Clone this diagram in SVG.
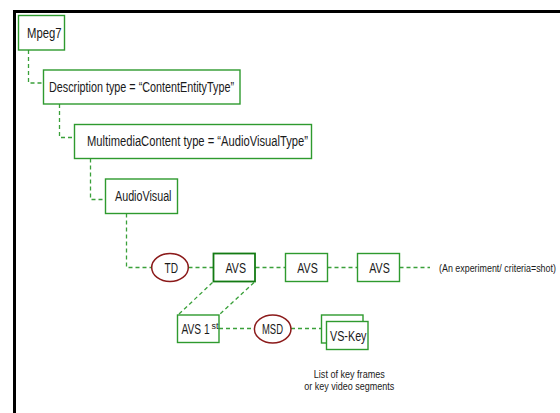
<svg xmlns="http://www.w3.org/2000/svg" width="560" height="413" viewBox="0 0 560 413">
  <style>
    .box { fill: #ffffff; stroke: #2e9a2e; stroke-width: 1.4; }
    .box-strong { fill: #ffffff; stroke: #137a13; stroke-width: 1.8; }
    .oval { fill: #ffffff; stroke: #8b1a1a; stroke-width: 1.5; }
    .link { fill: none; stroke: #3aa03a; stroke-width: 1.3; stroke-dasharray: 4 3; }
    text { font-family: "Liberation Sans Narrow", "Liberation Sans", Arial, sans-serif; fill: #1a1a1a; }
    .lbl { font-size: 14px; }
    .note { font-size: 11.5px; }
  </style>

  <!-- frame -->
  <rect x="13" y="10" width="547" height="3" fill="#000"/>
  <rect x="13" y="10" width="3" height="403" fill="#000"/>

  <!-- connectors -->
  <g id="connectors">
    <polyline class="link" points="28.5,50 28.5,83 43.5,83"/>
    <polyline class="link" points="59.5,104 59.5,137.5 74.5,137.5"/>
    <polyline class="link" points="90.5,158.5 90.5,199.5 105.5,199.5"/>
    <polyline class="link" points="126.5,213.5 126.5,267.5 151.5,267.5"/>
    <line class="link" x1="188.5" y1="267.5" x2="213" y2="267.5"/>
    <line class="link" x1="255.5" y1="267.5" x2="285.5" y2="267.5"/>
    <line class="link" x1="327.5" y1="267.5" x2="357.5" y2="267.5"/>
    <line class="link" x1="399.5" y1="267.5" x2="430" y2="267.5"/>
    <line class="link" x1="212.5" y1="282.5" x2="178" y2="315"/>
    <line class="link" x1="254" y1="282.5" x2="219" y2="315"/>
    <line class="link" x1="219" y1="328.5" x2="254.5" y2="328.5"/>
    <line class="link" x1="291" y1="328.5" x2="321.5" y2="328.5"/>
  </g>

  <g id="mpeg7">
    <rect class="box" x="18.5" y="15.5" width="46" height="34.5"/>
    <text class="lbl" x="27" y="38" textLength="34.5" lengthAdjust="spacingAndGlyphs">Mpeg7</text>
  </g>

  <g id="description">
    <rect class="box" x="43.5" y="70" width="196.5" height="34"/>
    <text class="lbl" x="49" y="92" textLength="185" lengthAdjust="spacingAndGlyphs">Description type = “ContentEntityType”</text>
  </g>

  <g id="multimedia-content">
    <rect class="box" x="74.5" y="124.5" width="237" height="34"/>
    <text class="lbl" x="87" y="146" textLength="221" lengthAdjust="spacingAndGlyphs">MultimediaContent type = “AudioVisualType”</text>
  </g>

  <g id="audiovisual">
    <rect class="box" x="105.5" y="179" width="72" height="34.5"/>
    <text class="lbl" x="115" y="200.5" textLength="56.5" lengthAdjust="spacingAndGlyphs">AudioVisual</text>
  </g>

  <g id="td">
    <ellipse class="oval" cx="170" cy="267.5" rx="18.3" ry="14"/>
    <text class="lbl" x="164.5" y="272.5" textLength="13.5" lengthAdjust="spacingAndGlyphs">TD</text>
  </g>

  <g id="avs-1">
    <rect class="box-strong" x="213.5" y="253.5" width="41.5" height="28"/>
    <text class="lbl" x="225.5" y="272.5" textLength="20.5" lengthAdjust="spacingAndGlyphs">AVS</text>
  </g>

  <g id="avs-2">
    <rect class="box" x="285.5" y="253.5" width="42" height="28"/>
    <text class="lbl" x="297.3" y="272.5" textLength="20.5" lengthAdjust="spacingAndGlyphs">AVS</text>
  </g>

  <g id="avs-3">
    <rect class="box" x="357.5" y="253.5" width="42" height="28"/>
    <text class="lbl" x="369.3" y="272.5" textLength="20.5" lengthAdjust="spacingAndGlyphs">AVS</text>
  </g>

  <!-- narrow note: small size stretched vertically to keep the tall, condensed look -->
  <g id="experiment-note">
    <text font-size="8.9" transform="translate(439 272) scale(1 1.28)">(An experiment/ criteria=shot)</text>
  </g>

  <g id="avs-first">
    <rect class="box" x="177.5" y="315" width="41.5" height="27.5"/>
    <text font-size="10.2" transform="translate(181.5 333.5) scale(1 1.37)">AVS 1</text>
    <text x="211.4" y="328.5" font-size="8.5" textLength="7" lengthAdjust="spacingAndGlyphs">st</text>
  </g>

  <g id="msd">
    <ellipse class="oval" cx="272.7" cy="329" rx="18.3" ry="14"/>
    <text class="lbl" x="262" y="334" textLength="21" lengthAdjust="spacingAndGlyphs">MSD</text>
  </g>

  <g id="vs-key">
    <rect class="box" x="321.5" y="315" width="41.5" height="28"/>
    <rect class="box" x="326.5" y="321.5" width="41.5" height="28"/>
    <text class="lbl" x="330" y="340.5" textLength="36.5" lengthAdjust="spacingAndGlyphs">VS-Key</text>
  </g>

  <g id="key-note">
    <text class="note" x="349.3" y="377.5" text-anchor="middle" textLength="71" lengthAdjust="spacingAndGlyphs">List of key frames</text>
    <text class="note" x="349.3" y="390" text-anchor="middle" textLength="90" lengthAdjust="spacingAndGlyphs">or key video segments</text>
  </g>
</svg>
